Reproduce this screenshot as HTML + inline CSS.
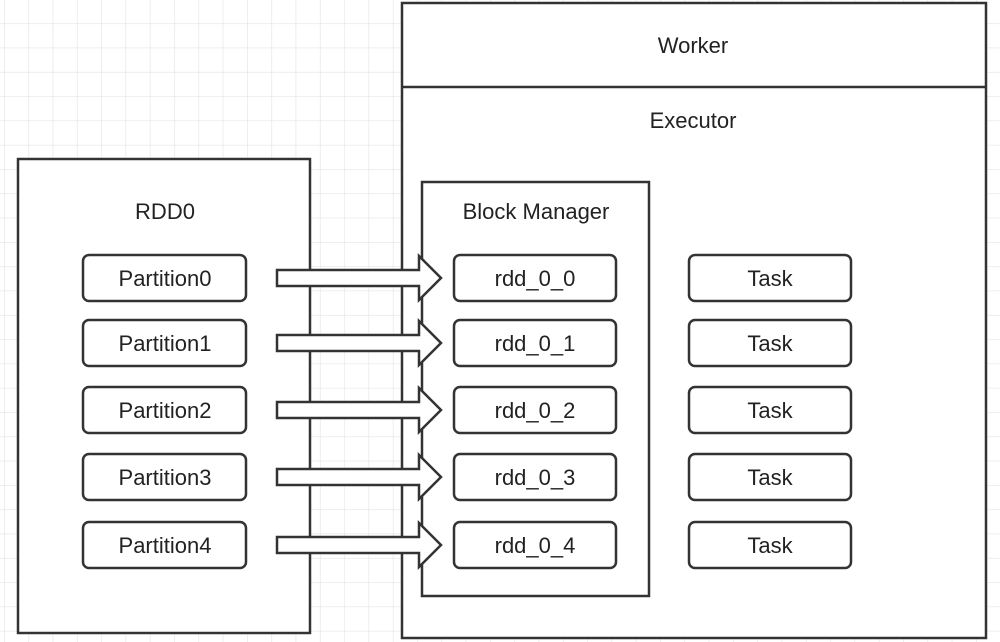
<!DOCTYPE html>
<html><head><meta charset="utf-8"><style>
body{margin:0;background:#fff}
svg{display:block}
text{font-family:"Liberation Sans",sans-serif;font-size:22px;fill:#222;text-anchor:middle}
</style></head><body>
<svg width="1000" height="642" viewBox="0 0 1000 642" xmlns="http://www.w3.org/2000/svg">
<defs>
<pattern id="g" x="4" y="-1" width="24.3" height="24.3" patternUnits="userSpaceOnUse">
<path d="M0 0V24.3M0 0H24.3" stroke="#e4e4e4" stroke-width="1.3" fill="none"/>
</pattern>
</defs>
<rect width="1000" height="642" fill="url(#g)"/>
<g stroke="#333" stroke-width="2.5" fill="#fff">
<rect x="18" y="159" width="292" height="474"/>
<rect x="402" y="3" width="584" height="635"/>
<line x1="402" y1="87" x2="986" y2="87"/>
<rect x="422" y="182" width="227" height="414"/>
</g>
<text x="693" y="53">Worker</text>
<text x="693" y="128">Executor</text>
<text x="165" y="219">RDD0</text>
<text x="536" y="219">Block Manager</text>
<g stroke="#333" stroke-width="2.5" fill="#fff">
<rect x="83" y="255" width="163" height="46" rx="6"/>
<rect x="83" y="320" width="163" height="46" rx="6"/>
<rect x="83" y="387" width="163" height="46" rx="6"/>
<rect x="83" y="454" width="163" height="46" rx="6"/>
<rect x="83" y="522" width="163" height="46" rx="6"/>
<rect x="454" y="255" width="162" height="46" rx="6"/>
<rect x="454" y="320" width="162" height="46" rx="6"/>
<rect x="454" y="387" width="162" height="46" rx="6"/>
<rect x="454" y="454" width="162" height="46" rx="6"/>
<rect x="454" y="522" width="162" height="46" rx="6"/>
<rect x="689" y="255" width="162" height="46" rx="6"/>
<rect x="689" y="320" width="162" height="46" rx="6"/>
<rect x="689" y="387" width="162" height="46" rx="6"/>
<rect x="689" y="454" width="162" height="46" rx="6"/>
<rect x="689" y="522" width="162" height="46" rx="6"/>
</g>
<g stroke="#333" stroke-width="2.5" fill="#fff" stroke-linejoin="miter">
<path d="M277 270H419V256L441 278L419 300V286H277Z"/>
<path d="M277 335H419V321L441 343L419 365V351H277Z"/>
<path d="M277 402H419V388L441 410L419 432V418H277Z"/>
<path d="M277 469H419V455L441 477L419 499V485H277Z"/>
<path d="M277 537H419V523L441 545L419 567V553H277Z"/>
</g>
<g>
<text x="165" y="286">Partition0</text>
<text x="165" y="351">Partition1</text>
<text x="165" y="418">Partition2</text>
<text x="165" y="485">Partition3</text>
<text x="165" y="553">Partition4</text>
<text x="535" y="286">rdd_0_0</text>
<text x="535" y="351">rdd_0_1</text>
<text x="535" y="418">rdd_0_2</text>
<text x="535" y="485">rdd_0_3</text>
<text x="535" y="553">rdd_0_4</text>
<text x="770" y="286">Task</text>
<text x="770" y="351">Task</text>
<text x="770" y="418">Task</text>
<text x="770" y="485">Task</text>
<text x="770" y="553">Task</text>
</g>
</svg>
</body></html>
